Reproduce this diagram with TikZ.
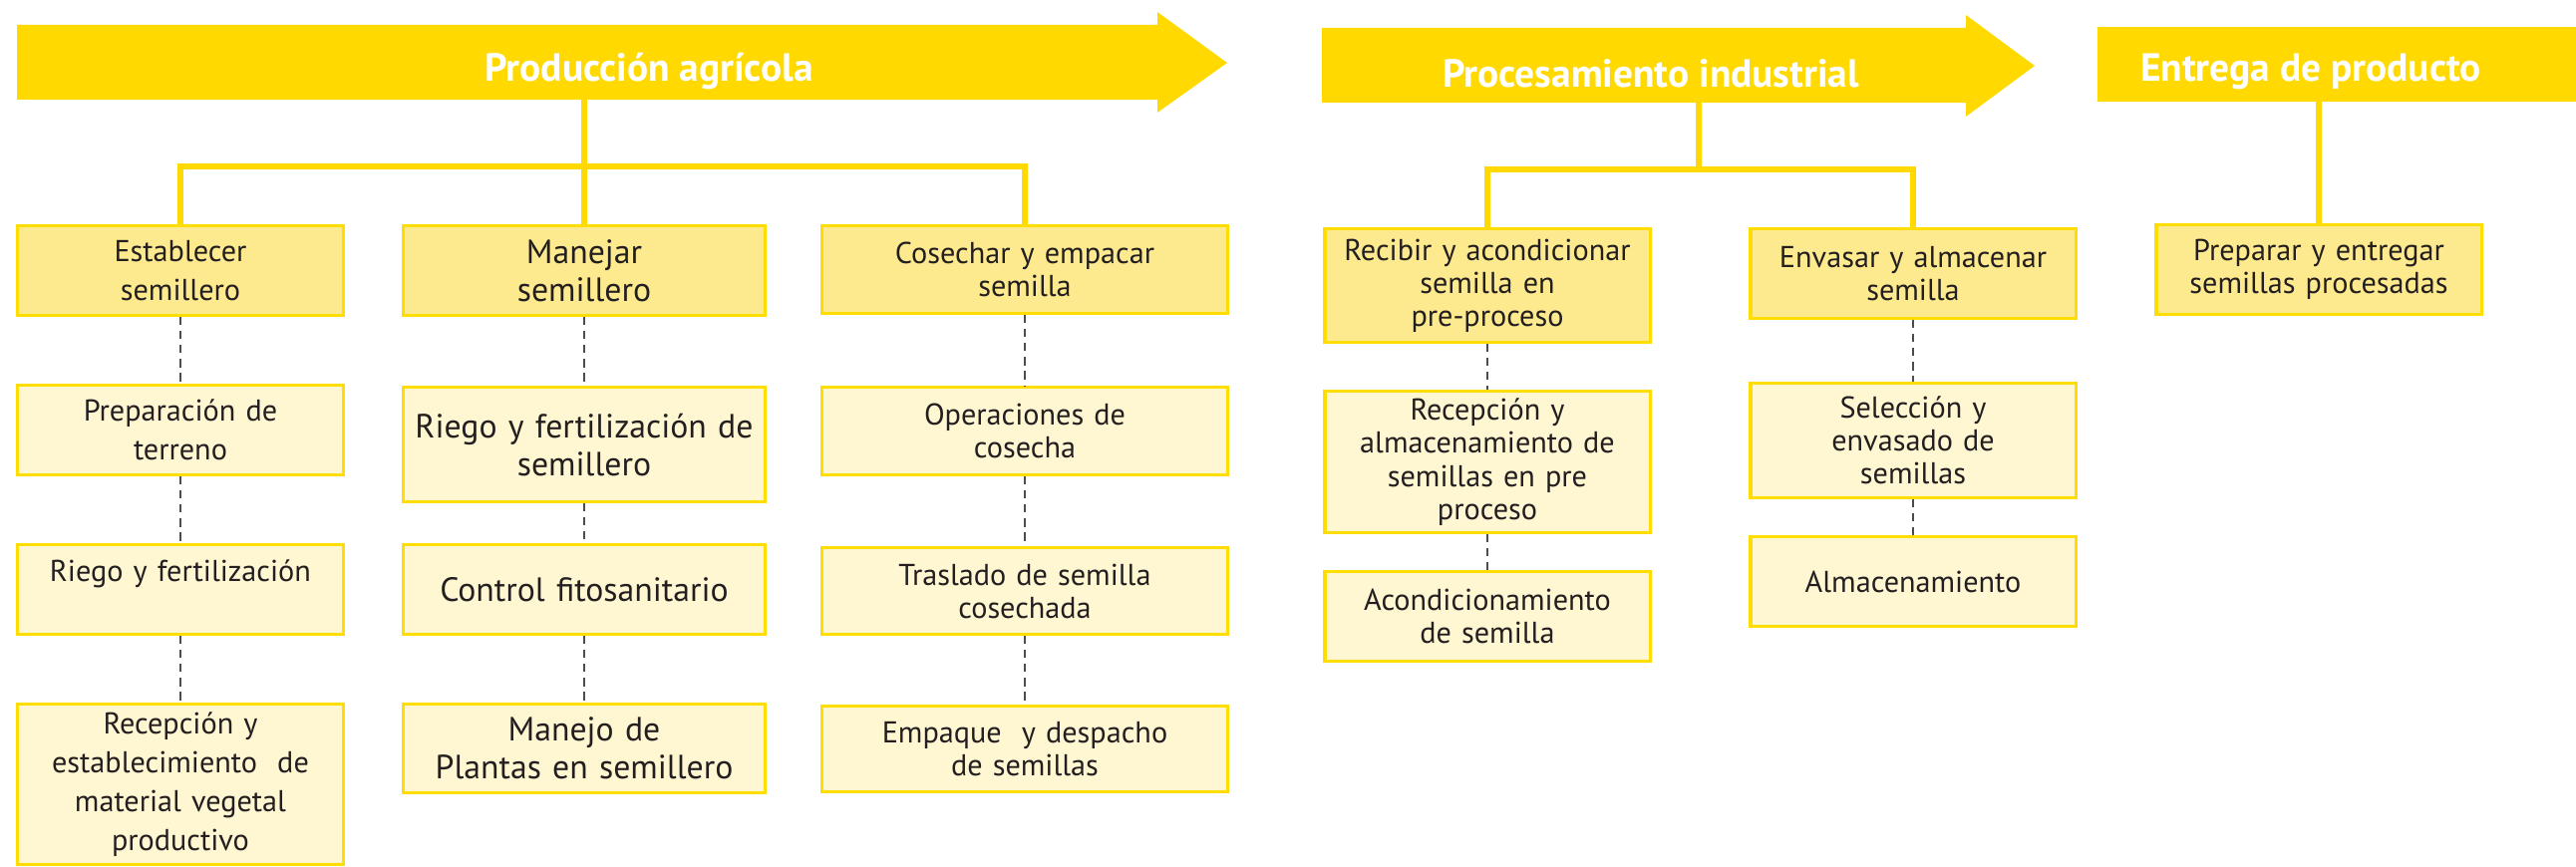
\documentclass[tikz,border=0pt]{standalone}
\usepackage{fontspec}
\setmainfont{PT Sans}
\usetikzlibrary{calc}

\definecolor{arrowyellow}{RGB}{255,217,0}
\definecolor{boxedge}{RGB}{255,221,0}
\definecolor{boxdark}{RGB}{254,234,142}
\definecolor{boxlight}{RGB}{255,246,210}
\definecolor{inkgray}{RGB}{35,31,32}

\tikzset{
  stepbox/.style={draw=boxedge, line width=0.9pt, align=center, inner sep=0pt,
    text=inkgray, anchor=north, font=\fontsize{8.6}{11}\selectfont},
  mainbox/.style={stepbox, fill=boxdark},
  subbox/.style={stepbox, fill=boxlight},
  colA/.style={minimum width=3.26cm, text width=3.1cm},
  colB/.style={minimum width=3.63cm, text width=3.5cm, font=\fontsize{9.6}{10.8}\selectfont},
  colC/.style={minimum width=4.06cm, text width=3.9cm, font=\fontsize{8.6}{9.4}\selectfont},
  colD/.style={minimum width=3.26cm, text width=3.1cm, font=\fontsize{8.6}{9.4}\selectfont},
  yline/.style={draw=arrowyellow, line width=1.7pt},
  dline/.style={draw=inkgray!80, line width=0.4pt, dash pattern=on 2.3pt off 1.7pt},
  phase/.style={text=white, font=\bfseries\fontsize{11.2}{13}\selectfont}
}

\begin{document}
\begin{tikzpicture}[x=0.01cm, y=-0.01cm]

\useasboundingbox (0,0) rectangle (2584,870);

% Phase arrows
\fill[arrowyellow] (17,25) -- (1161,25) -- (1161,12) -- (1231,63) -- (1161,113) -- (1161,100) -- (17,100) -- cycle;
\fill[arrowyellow] (1326,28) -- (1972,28) -- (1972,15) -- (2041,66) -- (1972,117) -- (1972,103) -- (1326,103) -- cycle;
\fill[arrowyellow] (2104,27) rectangle (2584,102);

\node[phase] (prod) at (651,71) {Producción agrícola};
\node[phase] (proc) at (1656,74) {Procesamiento industrial};
\node[phase] (entr) at (2318,72) {Entrega de producto};

% Connector points under the arrows
\coordinate (prodB) at (586,100);
\coordinate (prodJ) at (586,167);
\coordinate (procB) at (1704,103);
\coordinate (procJ) at (1704,170);
\coordinate (entrB) at (2326,102);

% Produccion agricola
\node[mainbox, colA, minimum height=0.90cm] (est) at (181,225) {Establecer\\semillero};
\node[mainbox, colB, minimum height=0.90cm] (man) at (586,225) {Manejar\\semillero};
\node[mainbox, colC, minimum height=0.88cm] (cos) at (1028,225) {Cosechar y empacar\\semilla};

\node[subbox, colA, minimum height=0.90cm] (prep) at (181,385) {Preparación de\\terreno};
\node[subbox, colB, minimum height=1.15cm] (riegoSem) at (586,387) {Riego y fertilización de\\semillero};
\node[subbox, colC, minimum height=0.88cm] (oper) at (1028,387) {Operaciones de\\cosecha};

\node[subbox, colA, minimum height=0.90cm] (riego) at (181,545) {Riego y fertilización\\\mbox{}};
\node[subbox, colB, minimum height=0.90cm] (control) at (586,545) {Control fitosanitario};
\node[subbox, colC, minimum height=0.87cm] (traslado) at (1028,548) {Traslado de semilla\\cosechada};

\node[subbox, colA, minimum height=1.61cm] (recep) at (181,705) {Recepción y\\establecimiento\ \ de\\material vegetal\\productivo};
\node[subbox, colB, minimum height=0.89cm] (manejo) at (586,705) {Manejo de\\Plantas en semillero};
\node[subbox, colC, minimum height=0.86cm] (empaque) at (1028,707) {Empaque\ \ y despacho\\de semillas};

% Procesamiento industrial
\node[mainbox, colD, minimum height=1.14cm] (recib) at (1492,228) {Recibir y acondicionar\\semilla en\\pre-proceso};
\node[mainbox, colD, minimum height=0.90cm] (envas) at (1919,228) {Envasar y almacenar\\semilla};

\node[subbox, colD, minimum height=1.42cm] (recAlm) at (1492,391) {Recepción y\\almacenamiento de\\semillas en pre\\proceso};
\node[subbox, colD, minimum height=0.90cm] (acond) at (1492,572) {Acondicionamiento\\de semilla};
\node[subbox, colD, minimum height=1.15cm] (selec) at (1919,383) {Selección y\\envasado de\\semillas};
\node[subbox, colD, minimum height=0.90cm] (alm) at (1919,537) {Almacenamiento};

% Entrega de producto
\node[mainbox, colD, minimum height=0.90cm] (prepEnt) at (2326,224) {Preparar y entregar\\semillas procesadas};

% Yellow tree connectors
\draw[yline] (prodB) -- (prodJ);
\draw[yline] (est.north) |- (prodJ) -| (cos.north);
\draw[yline] (prodJ) -- (man.north);
\draw[yline] (procB) -- (procJ);
\draw[yline] (recib.north) |- (procJ) -| (envas.north);
\draw[yline] (entrB) -- (prepEnt.north);

% Dashed step connectors
\draw[dline] (est.south) -- (prep.north);
\draw[dline] (prep.south) -- (riego.north);
\draw[dline] (riego.south) -- (recep.north);
\draw[dline] (man.south) -- (riegoSem.north);
\draw[dline] (riegoSem.south) -- (control.north);
\draw[dline] (control.south) -- (manejo.north);
\draw[dline] (cos.south) -- (oper.north);
\draw[dline] (oper.south) -- (traslado.north);
\draw[dline] (traslado.south) -- (empaque.north);
\draw[dline] (recib.south) -- (recAlm.north);
\draw[dline] (recAlm.south) -- (acond.north);
\draw[dline] (envas.south) -- (selec.north);
\draw[dline] (selec.south) -- (alm.north);

\end{tikzpicture}
\end{document}
